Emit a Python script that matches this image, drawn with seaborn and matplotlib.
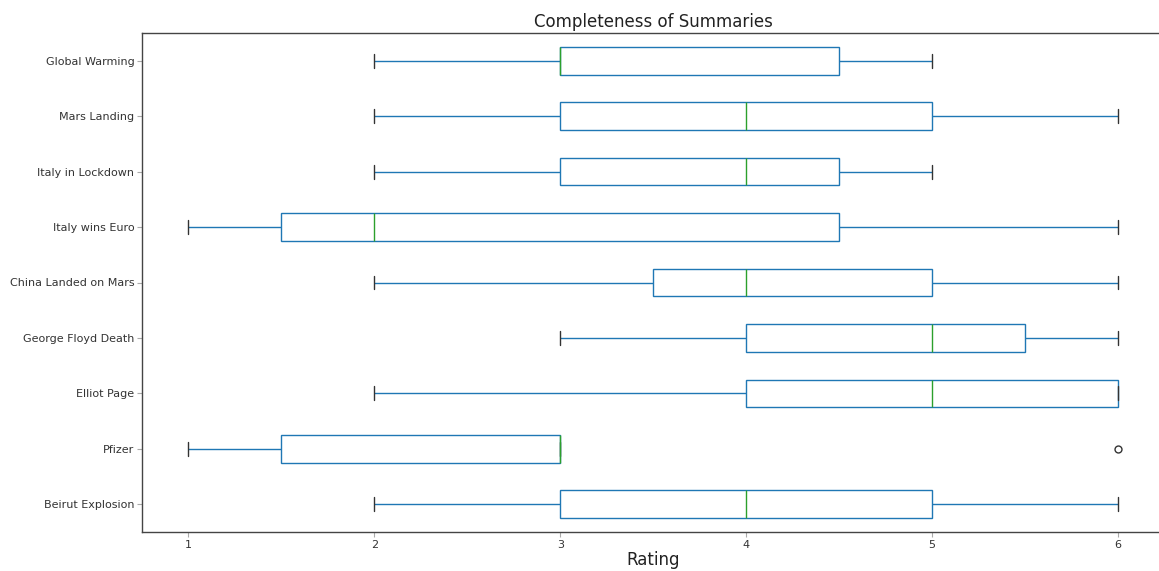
import matplotlib
matplotlib.use("Agg")
import matplotlib.pyplot as plt
import seaborn as sns
import pandas as pd

topics = ["Global Warming", "Mars Landing", "Italy in Lockdown", "Italy wins Euro",
          "China Landed on Mars", "George Floyd Death", "Elliot Page", "Pfizer",
          "Beirut Explosion"]
global_warming = [2, 3, 3, 3, 4, 5, 5]
mars_landing = [2, 3, 3, 4, 5, 5, 6]
italy_lockdown = [2, 3, 3, 4, 4, 5, 5]
italy_euro = [1, 1, 2, 2, 4, 5, 6]
china_mars = [2, 3, 4, 4, 5, 5, 6]
george_floyd = [3, 4, 4, 5, 5, 6, 6]
elliot_page = [2, 4, 4, 5, 6, 6, 6]
pfizer = [1, 1, 2, 3, 3, 3, 6]
beirut = [2, 3, 3, 4, 5, 5, 6]
series = [global_warming, mars_landing, italy_lockdown, italy_euro, china_mars,
          george_floyd, elliot_page, pfizer, beirut]

rows = []
for t, vals in zip(topics, series):
    for v in vals:
        rows.append({"Topic": t, "Rating": v})
df = pd.DataFrame(rows)

sns.set_style("white")
plt.rcParams["font.family"] = ["DejaVu Sans"]

fig = plt.figure(figsize=(11.59, 5.71), dpi=100)
ax = fig.add_axes([142/1159, 39/571, (1164.5-142)/1159, (532-33)/571])

blue = "#1f77b4"
sns.boxplot(data=df, x="Rating", y="Topic", order=topics, orient="h",
            width=0.5, color="white", linecolor=blue, linewidth=1,
            whis=1.5, ax=ax,
            boxprops=dict(facecolor="white", edgecolor=blue, linewidth=1),
            whiskerprops=dict(color=blue, linewidth=1),
            capprops=dict(color="#333333", linewidth=1),
            medianprops=dict(color="#2ca02c", linewidth=1),
            flierprops=dict(marker="o", markerfacecolor="none",
                            markeredgecolor="#333333", markersize=5))

ax.set_xlim(0.75, 6.25)
ax.set_ylim(8.5, -0.5)
ax.set_xticks([1, 2, 3, 4, 5, 6])
ax.set_xticklabels(["1", "2", "3", "4", "5", "6"])
ax.set_title("Completeness of Summaries", fontsize=12, color="#222222", pad=4)
ax.set_xlabel("Rating", fontsize=12, color="#222222", labelpad=1)
ax.set_ylabel("")
ax.tick_params(axis="both", labelsize=8, labelcolor="#333333", color="#aaaaaa",
               length=3.5, width=0.8, direction="out", bottom=True, left=True, pad=2)
for s in ax.spines.values():
    s.set_color("#444444")
    s.set_linewidth(1)
    s.set_visible(True)

fig.savefig("out.png", dpi=100)
